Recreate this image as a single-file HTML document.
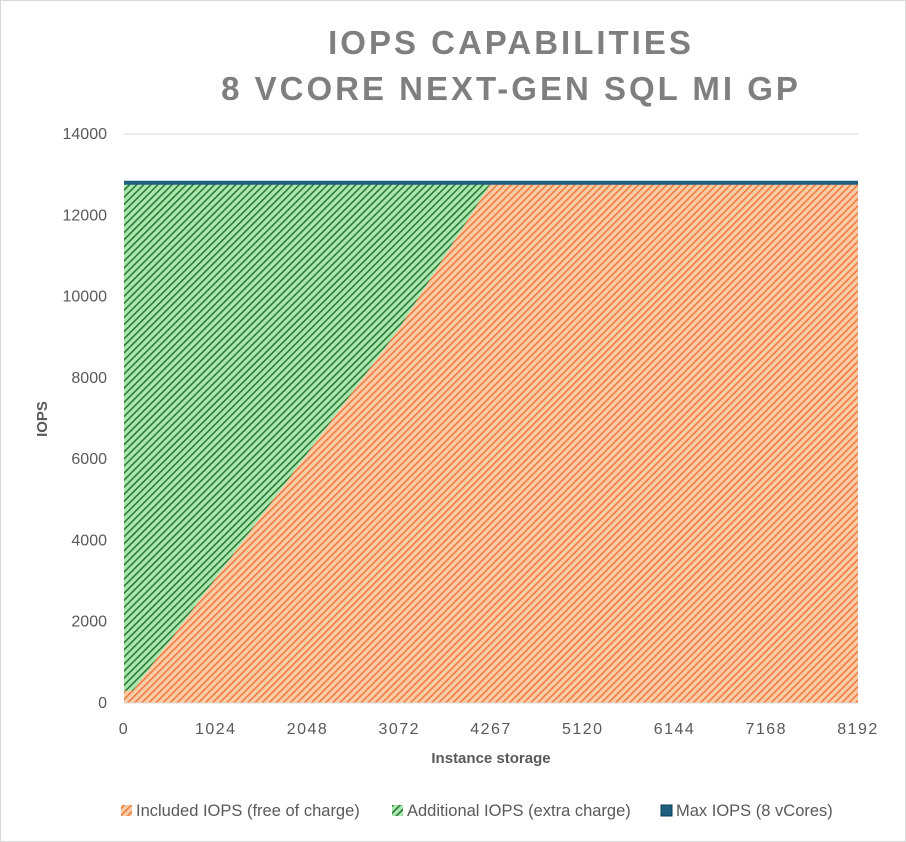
<!DOCTYPE html>
<html><head><meta charset="utf-8"><style>
body{margin:0;background:#fff;font-family:"Liberation Sans",sans-serif}
#wrap{position:relative;width:906px;height:842px;border:1px solid #d9d9d9;box-sizing:border-box;overflow:hidden}
</style></head><body>
<div id="wrap">
<svg id="chart" width="906" height="842"></svg>
</div>
<script>
const yTicks=[0,2000,4000,6000,8000,10000,12000,14000];
const xTicks=[0,1024,2048,3072,4267,5120,6144,7168,8192];
const storage=[0,100,3072,4267,8192];
const included=[300,300,9216,12800,12800];
const maxIops=[12800,12800,12800,12800,12800];
const seriesNames=["Included IOPS (free of charge)","Additional IOPS (extra charge)","Max IOPS (8 vCores)"];
const NS="http://www.w3.org/2000/svg";
const svg=document.getElementById('chart');
const X0=123,X1=857,Y0=702,Y1=133;
function xs(v){
 const n=xTicks.length-1,step=(X1-X0)/n;
 for(let i=0;i<n;i++){if(v<=xTicks[i+1]||i==n-1){const f=(v-xTicks[i])/(xTicks[i+1]-xTicks[i]);return X0+(i+f)*step;}}
}
const ys=v=>Y0-v/14000*(Y0-Y1);
function el(t,a,p){const e=document.createElementNS(NS,t);for(const k in a)e.setAttribute(k,a[k]);(p||svg).appendChild(e);return e;}
const defs=el('defs',{});
defs.innerHTML='<pattern id="po" width="5" height="5" patternUnits="userSpaceOnUse" patternTransform="rotate(45)"><rect width="5" height="5" fill="#fbcca8"/><rect width="1.6" height="5" fill="#ef7c40"/></pattern><pattern id="pg" width="5" height="5" patternUnits="userSpaceOnUse" patternTransform="rotate(45)"><rect width="5" height="5" fill="#acE6b0"/><rect width="1.6" height="5" fill="#2a7d34"/></pattern>';
const title=el('text',{x:510,y:53,'text-anchor':'middle','font-size':33,'font-weight':'bold',fill:'#7f7f7f','letter-spacing':'3'});

title.innerHTML='<tspan x="510" y="53">IOPS CAPABILITIES</tspan><tspan x="510" y="99">8 VCORE NEXT-GEN SQL MI GP</tspan>';
yTicks.forEach(v=>{
 if(v>0){const g=el('line',{x1:X0,x2:X1,y1:ys(v),y2:ys(v),stroke:'#d9d9d9'});}
 const t=el('text',{x:106,y:ys(v)+5,'text-anchor':'end','font-size':16,fill:'#595959'});t.textContent=v;
 
});
xTicks.forEach(v=>{const t=el('text',{x:xs(v),y:733,'text-anchor':'middle','font-size':16,fill:'#595959','letter-spacing':'1.5'});t.textContent=v;
 });
let gp='M'+xs(storage[0])+','+ys(maxIops[0]);
storage.forEach((s,i)=>gp+=' L'+xs(s)+','+ys(maxIops[i]));
for(let i=storage.length-1;i>=0;i--)gp+=' L'+xs(storage[i])+','+ys(included[i]);
const ga=el('path',{d:gp+'Z',fill:'url(#pg)'});
let op='M'+xs(storage[0])+','+ys(0);
storage.forEach((s,i)=>op+=' L'+xs(s)+','+ys(included[i]));
op+=' L'+xs(storage[storage.length-1])+','+ys(0)+'Z';
const oa=el('path',{d:op,fill:'url(#po)'});
let mp='';storage.forEach((s,i)=>mp+=(i?' L':'M')+xs(s)+','+ys(maxIops[i]));
const ml=el('path',{d:mp,stroke:'#1f5f7f',"stroke-width":4,fill:'none'});
const ax=el('line',{x1:X0,x2:X1,y1:Y0,y2:Y0,stroke:'#d9d9d9'});
const xt=el('text',{x:490,y:762,'text-anchor':'middle','font-size':15,'font-weight':'bold',fill:'#595959'});xt.textContent='Instance storage';

const yt=el('text',{x:0,y:0,'text-anchor':'middle','font-size':15,'font-weight':'bold',fill:'#595959',transform:'translate(46,418) rotate(-90)'});yt.textContent='IOPS';

const lx=[120,391,660],fills=['url(#po)','url(#pg)','#1f5f7f'];
seriesNames.forEach((n,i)=>{
 const r=el('rect',{x:lx[i],y:804,width:11,height:11,fill:fills[i],stroke:i==2?'#0d3b52':'none'});
 
 const t=el('text',{x:lx[i]+15,y:815,'font-size':16.5,fill:'#595959'});t.textContent=n;
 
});
</script>
</body></html>
